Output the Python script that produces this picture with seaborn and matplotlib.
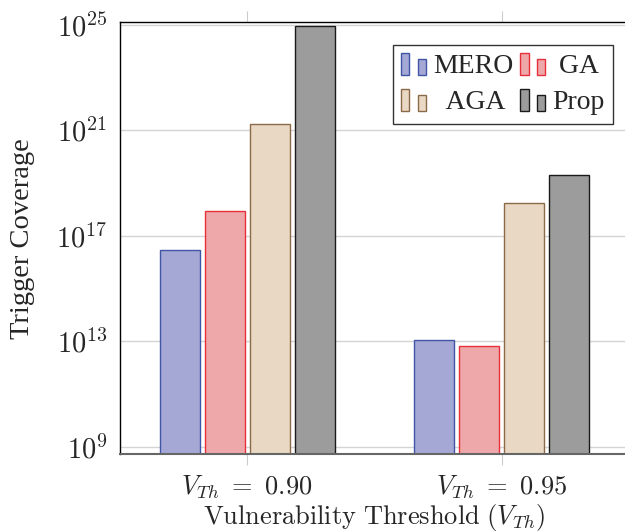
import math
import matplotlib
matplotlib.use("Agg")
import matplotlib.pyplot as plt
import seaborn as sns
import pandas as pd
from matplotlib.patches import Rectangle
from matplotlib.legend_handler import HandlerBase
from matplotlib.ticker import FixedLocator, FuncFormatter, NullLocator

# ---- data ----
thresholds = [r"$V_{Th}\ =\ 0.90$", r"$V_{Th}\ =\ 0.95$"]
methods = ["MERO", "GA", "AGA", "Prop"]
mero = [2.8e16, 1.1e13]
ga = [9.0e17, 6.6e12]
aga = [1.75e21, 1.7e18]
prop = [9.5e24, 2.1e19]
ytick_vals = [1e9, 1e13, 1e17, 1e21, 1e25]

fills = ["#a5a8d4", "#eea8aa", "#e9d8c4", "#9c9c9c"]
edges = ["#3f56a6", "#e8303a", "#8c6a48", "#1a1a1a"]

rows = []
for m, vals in zip(methods, [mero, ga, aga, prop]):
    for t, v in zip(thresholds, vals):
        rows.append({"threshold": t, "method": m, "value": v})
df = pd.DataFrame(rows)

sns.set_style("white")
plt.rcParams["mathtext.fontset"] = "cm"
plt.rcParams["font.family"] = ["Liberation Serif", "DejaVu Serif"]

fig = plt.figure(figsize=(6.25, 5.32), dpi=100)
ax = fig.add_axes([120 / 625, 1 - 454 / 532, (629 - 120) / 625, (454 - 22.3) / 532])
ax.set_yscale("log")

sns.barplot(data=df, x="threshold", y="value", hue="method", order=thresholds,
            hue_order=methods, palette=fills, saturation=1, width=0.708, gap=0.11,
            ax=ax, legend=False)

for cont, ec in zip(ax.containers, edges):
    for p in cont:
        p.set_edgecolor(ec)
        p.set_linewidth(1.0)

ax.set_xlim(-0.5, 1.5)
ax.set_ylim(10 ** 8.72, 10 ** 25.1)
ax.yaxis.set_major_locator(FixedLocator(ytick_vals))
ax.yaxis.set_minor_locator(NullLocator())
ax.yaxis.set_major_formatter(FuncFormatter(lambda v, p: r"$10^{%d}$" % round(math.log10(v))))
ax.grid(axis="y", color="#d4d4d4", linewidth=1.0)
ax.set_axisbelow(True)

for s in ["left", "bottom", "top", "right"]:
    ax.spines[s].set_color("#000000")
    ax.spines[s].set_linewidth(1.0)
ax.spines["bottom"].set_color("#666666")
ax.spines["bottom"].set_linewidth(1.5)

ax.tick_params(axis="y", direction="in", length=8, color="#bbbbbb", labelsize=20.5, pad=9)
ax.tick_params(axis="x", direction="out", length=8, color="#cccccc", labelsize=19, pad=6,
               top=True, bottom=True)

ax.set_ylabel("Trigger Coverage", fontsize=20.5, labelpad=15)
ax.set_xlabel(r"$\mathrm{Vulnerability\ Threshold\ (}V_{Th}\mathrm{)}$", fontsize=19, labelpad=1)


class TwoBarHandler(HandlerBase):
    def __init__(self, fc, ec):
        super().__init__()
        self.fc, self.ec = fc, ec

    def create_artists(self, legend, orig_handle, xdescent, ydescent, width, height, fontsize, trans):
        w = width * 0.33
        y0 = -ydescent - 1.5
        r1 = Rectangle((-xdescent, y0), w, height * 1.13, facecolor=self.fc,
                       edgecolor=self.ec, lw=1.0, transform=trans)
        r2 = Rectangle((-xdescent + width * 0.67, y0), w, height * 0.82,
                       facecolor=self.fc, edgecolor=self.ec, lw=1.0, transform=trans)
        return [r1, r2]


handles = [Rectangle((0, 0), 1, 1) for _ in methods]
labels = ["MERO", " GA", "  AGA", "Prop"]
hmap = {h: TwoBarHandler(f, e) for h, f, e in zip(handles, fills, edges)}
# ncol=2 fills column-wise: MERO, AGA | GA, Prop
order = [0, 2, 1, 3]
leg = ax.legend([handles[i] for i in order], [labels[i] for i in order], handler_map=hmap,
                ncol=2, loc="upper right", bbox_to_anchor=(613 / 625, 1 - 45 / 532),
                bbox_transform=fig.transFigure, fontsize=20, frameon=True, fancybox=False,
                edgecolor="#333333", framealpha=1, handlelength=0.9, handletextpad=0.25,
                columnspacing=0.25, borderpad=0.3, labelspacing=0.4, borderaxespad=0)
leg.get_frame().set_linewidth(1.0)

fig.savefig("out.png", dpi=100)
